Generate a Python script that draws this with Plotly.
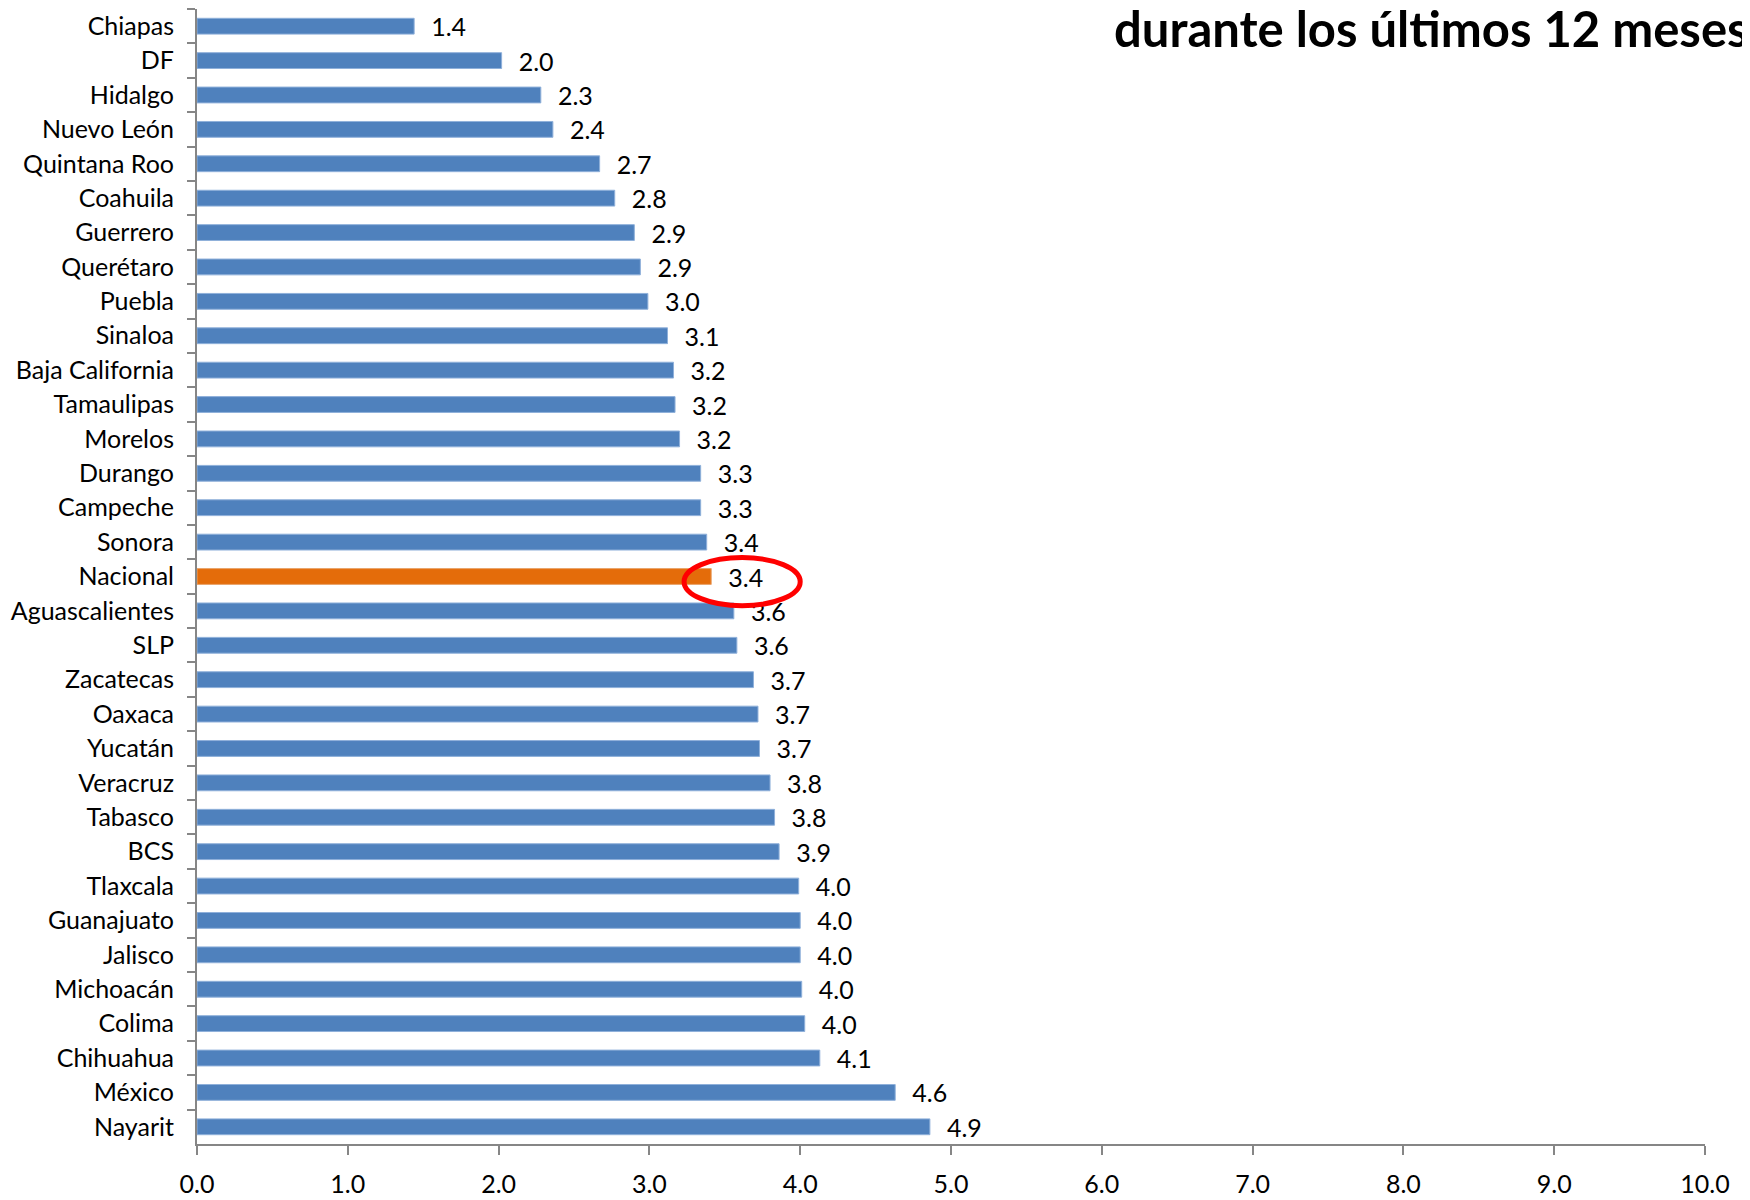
import plotly.graph_objects as go

states = ["Chiapas", "DF", "Hidalgo", "Nuevo León", "Quintana Roo", "Coahuila",
          "Guerrero", "Querétaro", "Puebla", "Sinaloa", "Baja California",
          "Tamaulipas", "Morelos", "Durango", "Campeche", "Sonora", "Nacional",
          "Aguascalientes", "SLP", "Zacatecas", "Oaxaca", "Yucatán", "Veracruz",
          "Tabasco", "BCS", "Tlaxcala", "Guanajuato", "Jalisco", "Michoacán",
          "Colima", "Chihuahua", "México", "Nayarit"]
values = [1.44, 2.02, 2.28, 2.36, 2.67, 2.77, 2.90, 2.94, 2.99, 3.12, 3.16,
          3.17, 3.20, 3.34, 3.34, 3.38, 3.41, 3.56, 3.58, 3.69, 3.72, 3.73, 3.80,
          3.83, 3.86, 3.99, 4.00, 4.00, 4.01, 4.03, 4.13, 4.63, 4.86]
highlight = "Nacional"
x_ticks = [0, 1, 2, 3, 4, 5, 6, 7, 8, 9, 10]
title_text = "durante los últimos 12 meses"

BLUE = "#4F81BD"
ORANGE = "#E46C0A"
FONT = "Lato, Liberation Sans, sans-serif"

colors = [ORANGE if s == highlight else BLUE for s in states]
edge = ["#E9A46B" if s == highlight else "#8FB0DA" for s in states]

fig = go.Figure()
fig.add_trace(go.Bar(
    x=values, y=states, orientation="h",
    marker=dict(color=colors, line=dict(color=edge, width=1)),
    width=0.46,
    texttemplate="\u2002\u200a%{x:.1f}", textposition="outside",
    constraintext="none", cliponaxis=False,
    textfont=dict(family=FONT, size=25, color="black"),
    hoverinfo="x+y",
))

hi = states.index(highlight)
hv = values[hi]
fig.add_shape(type="circle", xref="x", yref="y",
              x0=hv - 0.18, x1=hv + 0.59, y0=hi - 0.55, y1=hi + 0.85,
              line=dict(color="#FF0000", width=5))

fig.add_annotation(text="<b>" + title_text + "</b>", xref="paper", yref="paper",
                   x=0.607, y=0.983, xanchor="left", yanchor="middle",
                   showarrow=False,
                   font=dict(family=FONT, size=49, color="black"))

# page body has an 8px margin; figure sized so it ends at the window edge
fig.update_layout(
    width=1742, height=1192,
    margin=dict(l=189, r=45, t=1, b=56),
    paper_bgcolor="white", plot_bgcolor="white",
    showlegend=False,
    font=dict(family=FONT, size=25, color="black"),
)
fig.update_xaxes(
    range=[0, 10], tickvals=x_ticks, ticktext=[f"{v:.1f}" for v in x_ticks],
    showgrid=False, zeroline=False, automargin=False,
    showline=True, linecolor="#868686", linewidth=2,
    ticks="outside", ticklen=9, tickcolor="#868686", tickwidth=2,
    ticklabelstandoff=8,
    tickfont=dict(family=FONT, size=25, color="black"),
)
fig.update_yaxes(
    autorange="reversed", type="category", automargin=False,
    showgrid=False, zeroline=False,
    showline=True, linecolor="#868686", linewidth=2,
    ticks="outside", ticklen=8, tickcolor="#868686", tickwidth=2,
    tickson="boundaries", ticklabelstandoff=16,
    tickfont=dict(family=FONT, size=25, color="black"),
)

fig.write_html("out.html")
